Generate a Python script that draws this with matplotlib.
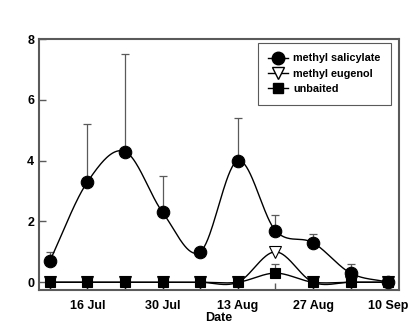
import numpy as np
import matplotlib
matplotlib.use("Agg")
import matplotlib.pyplot as plt
import matplotlib.dates as mdates
from matplotlib.lines import Line2D

# -----------------------------
# DATA
# -----------------------------
dates = ["2003-07-09", "2003-07-16", "2003-07-23", "2003-07-30", "2003-08-06",
         "2003-08-13", "2003-08-20", "2003-08-27", "2003-09-03", "2003-09-10"]
tick_dates = ["2003-07-16", "2003-07-30", "2003-08-13", "2003-08-27", "2003-09-10"]
tick_labels = ["16 Jul", "30 Jul", "13 Aug", "27 Aug", "10 Sep"]

salicylate = [0.7, 3.3, 4.3, 2.3, 1.0, 4.0, 1.7, 1.3, 0.3, 0.0]
salicylate_err = [0.3, 1.9, 3.2, 1.2, 0.0, 1.4, 0.5, 0.3, 0.3, 0.0]
eugenol = [0, 0, 0, 0, 0, 0, 1.0, 0, 0, 0]
eugenol_err = [0, 0, 0, 0, 0, 0, 0.1, 0, 0, 0]
unbaited = [0, 0, 0, 0, 0, 0, 0.3, 0, 0, 0]
unbaited_err = [0, 0, 0, 0, 0, 0, 0.3, 0, 0, 0]


def smooth_curve(x, y, n=40):
    # Catmull-Rom style curve through the points, only for the drawn line
    x = np.asarray(x, float)
    y = np.asarray(y, float)
    k = len(x)
    d = np.zeros(k)
    d[1:-1] = (y[2:] - y[:-2]) / (x[2:] - x[:-2])
    d[0] = (y[1] - y[0]) / (x[1] - x[0])
    d[-1] = (y[-1] - y[-2]) / (x[-1] - x[-2])
    xs_all, ys_all = [], []
    for i in range(k - 1):
        h = x[i + 1] - x[i]
        t = np.linspace(0, 1, n)
        h00 = 2 * t ** 3 - 3 * t ** 2 + 1
        h10 = t ** 3 - 2 * t ** 2 + t
        h01 = -2 * t ** 3 + 3 * t ** 2
        h11 = t ** 3 - t ** 2
        xs_all.append(x[i] + t * h)
        ys_all.append(h00 * y[i] + h10 * h * d[i] + h01 * y[i + 1] + h11 * h * d[i + 1])
    return np.concatenate(xs_all), np.concatenate(ys_all)


plt.rcParams['font.family'] = ['Liberation Sans', 'DejaVu Sans']
plt.rcParams['font.weight'] = 'bold'

x = mdates.datestr2num(dates)

fig = plt.figure(figsize=(4.2, 3.26), dpi=100)
ax = fig.add_axes([0.093, 0.110, 0.857, 0.770])

grey = "#5a5a5a"
series = [
    (salicylate, salicylate_err, "o", "black", 9),
    (eugenol, eugenol_err, "v", "white", 8),
    (unbaited, unbaited_err, "s", "black", 7),
]
for vals, err, mk, fc, ms in series:
    xs, ys = smooth_curve(x, vals)
    ax.plot(xs, ys, color="black", lw=1.0, zorder=2)
    e = np.asarray(err)
    keep = e > 0
    ax.errorbar(x[keep], np.asarray(vals)[keep], yerr=[np.zeros(keep.sum()), e[keep]],
                fmt="none", ecolor=grey, elinewidth=0.9, capsize=3, capthick=0.9, zorder=1)
    ax.plot(x, vals, linestyle="none", marker=mk, markersize=ms,
            markerfacecolor=fc, markeredgecolor="black", markeredgewidth=0.8, zorder=3)

ax.set_xlim(x[0] - 2, x[-1] + 2)
ax.set_ylim(-0.26, 8)
ax.set_yticks([0, 2, 4, 6, 8])
ax.set_xticks(x, minor=True)
ax.set_xticks(mdates.datestr2num(tick_dates))
ax.set_xticklabels(tick_labels)
ax.tick_params(which="both", direction="in", color=grey, labelsize=9, width=1, length=5)
ax.tick_params(axis="x", which="major", pad=7)
ax.set_xlabel("Date", fontsize=9, fontweight="bold", labelpad=0)
for s in ax.spines.values():
    s.set_color(grey)
    s.set_linewidth(1.5)

handles = [
    Line2D([], [], color="black", lw=1, marker="o", ms=9, mfc="black", mec="black"),
    Line2D([], [], color="black", lw=1, marker="v", ms=8, mfc="white", mec="black"),
    Line2D([], [], color="black", lw=1, marker="s", ms=7, mfc="black", mec="black"),
]
leg = ax.legend(handles, ["methyl salicylate", "methyl eugenol", "unbaited"],
                loc="upper right", fontsize=7.8, fancybox=False, framealpha=1,
                handlelength=1.8, handletextpad=0.5, borderpad=0.95, labelspacing=0.5,
                borderaxespad=0, bbox_to_anchor=(0.977, 0.984))
leg.get_frame().set_edgecolor(grey)
leg.get_frame().set_linewidth(0.8)

fig.savefig("out.png", dpi=100)
